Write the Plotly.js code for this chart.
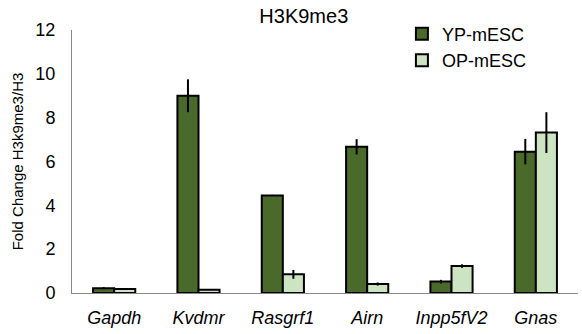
<!DOCTYPE html>
<html><head><meta charset="utf-8">
<script src="https://cdn.plot.ly/plotly-3.0.1.min.js"></script>
<style>body{margin:0;padding:0;background:#fff}#c{width:582px;height:334px}</style>
</head><body><div id="c"></div>
<script>
const categories = ["Gapdh","Kvdmr","Rasgrf1","Airn","Inpp5fV2","Gnas"];
const ypValues = [0.22, 9.0, 4.45, 6.67, 0.52, 6.45];
const ypErrors = [0.05, 0.75, 0.03, 0.35, 0.08, 0.58];
const opValues = [0.18, 0.15, 0.85, 0.41, 1.23, 7.32];
const opErrors = [0.02, 0.02, 0.2, 0.07, 0.08, 0.93];
const seriesNames = ["YP-mESC","OP-mESC"];
const tickLabels = categories.map(c => "<i>" + c + "</i>");

const traces = [
  {type:"bar", x:tickLabels, name:seriesNames[0], y:ypValues, legendgroup:"a",
    marker:{color:"#4a6a2c", line:{color:"#000",width:2}},
    error_y:{type:"data", array:ypErrors, visible:true, color:"#000", thickness:2, width:0}},
  {type:"bar", x:tickLabels, name:seriesNames[1], y:opValues, legendgroup:"b",
    marker:{color:"#cde4c3", line:{color:"#000",width:2}},
    error_y:{type:"data", array:opErrors, visible:true, color:"#000", thickness:2, width:0}}
];
const layout = {
  width:582, height:334,
  margin:{l:72, r:4, t:30, b:41},
  paper_bgcolor:"#fff", plot_bgcolor:"#fff",
  font:{family:"Liberation Sans, Arial, sans-serif", color:"#000", size:18},
  title:{text:"H3K9me3", x:0.522, xanchor:"center", y:0.972, yanchor:"top", font:{size:20}},
  barmode:"group", bargap:0.5, bargroupgap:0,
  showlegend:true,
  legend:{x:0.652, xanchor:"left", y:1.055, yanchor:"top", traceorder:"grouped", tracegroupgap:0,
    font:{size:18}, bgcolor:"rgba(0,0,0,0)"},
  xaxis:{showline:true, linecolor:"#888", linewidth:1, ticks:"", tickfont:{size:18}, showgrid:false, zeroline:false,
    ticklabelstandoff:8},
  yaxis:{range:[0,12], dtick:2, showline:true, linecolor:"#888", linewidth:1, ticks:"", showgrid:false, zeroline:false,
    tickfont:{size:18}, ticklabelstandoff:12,
    title:{text:"Fold Change H3k9me3/H3", font:{size:15}, standoff:8}}
};
Plotly.newPlot("c", traces, layout, {displayModeBar:false, staticPlot:true});
</script></body></html>
